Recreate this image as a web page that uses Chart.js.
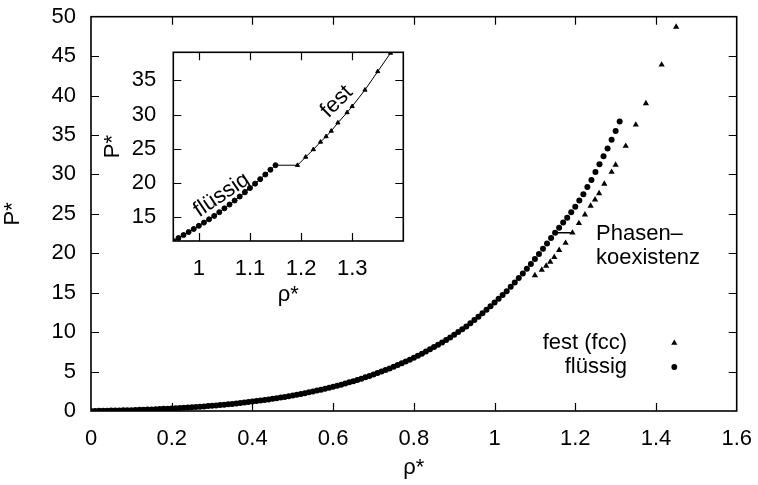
<!DOCTYPE html>
<html>
<head>
<meta charset="utf-8">
<script src="https://cdn.jsdelivr.net/npm/chart.js@4.4.1/dist/chart.umd.min.js"></script>
<style>
  body { margin: 0; background: #fff; }
  #wrap { position: relative; width: 758px; height: 485px; }
  #main { position: absolute; left: 0; top: 0; }
  #inset { position: absolute; left: 100px; top: 40px; }
</style>
</head>
<body>
<div id="wrap">
  <canvas id="main" width="758" height="485"></canvas>
  <canvas id="inset" width="320" height="275"></canvas>
</div>
<script>
// fluid branch (circles)
const rhoFluid = [
  0.00, 0.01, 0.02, 0.03, 0.04, 0.05, 0.06, 0.07, 0.08, 0.09,
  0.10, 0.11, 0.12, 0.13, 0.14, 0.15, 0.16, 0.17, 0.18, 0.19,
  0.20, 0.21, 0.22, 0.23, 0.24, 0.25, 0.26, 0.27, 0.28, 0.29,
  0.30, 0.31, 0.32, 0.33, 0.34, 0.35, 0.36, 0.37, 0.38, 0.39,
  0.40, 0.41, 0.42, 0.43, 0.44, 0.45, 0.46, 0.47, 0.48, 0.49,
  0.50, 0.51, 0.52, 0.53, 0.54, 0.55, 0.56, 0.57, 0.58, 0.59,
  0.60, 0.61, 0.62, 0.63, 0.64, 0.65, 0.66, 0.67, 0.68, 0.69,
  0.70, 0.71, 0.72, 0.73, 0.74, 0.75, 0.76, 0.77, 0.78, 0.79,
  0.80, 0.81, 0.82, 0.83, 0.84, 0.85, 0.86, 0.87, 0.88, 0.89,
  0.90, 0.91, 0.92, 0.93, 0.94, 0.95, 0.96, 0.97, 0.98, 0.99,
  1.00, 1.01, 1.02, 1.03, 1.04, 1.05, 1.06, 1.07, 1.08, 1.09,
  1.10, 1.11, 1.12, 1.13, 1.14, 1.15, 1.16, 1.17, 1.18, 1.19,
  1.20, 1.21, 1.22, 1.23, 1.24, 1.25, 1.26, 1.27, 1.28, 1.29,
  1.30, 1.31
];
const pFluid = [
  0.00, 0.01, 0.02, 0.03, 0.04, 0.05, 0.06, 0.07, 0.09, 0.10,
  0.11, 0.13, 0.15, 0.16, 0.18, 0.20, 0.22, 0.24, 0.27, 0.29,
  0.32, 0.35, 0.38, 0.41, 0.44, 0.47, 0.51, 0.54, 0.58, 0.62,
  0.66, 0.70, 0.75, 0.80, 0.85, 0.90, 0.96, 1.01, 1.07, 1.13,
  1.19, 1.26, 1.32, 1.39, 1.46, 1.54, 1.62, 1.70, 1.78, 1.87,
  1.97, 2.06, 2.16, 2.26, 2.37, 2.47, 2.59, 2.70, 2.82, 2.95,
  3.07, 3.21, 3.34, 3.48, 3.63, 3.78, 3.94, 4.10, 4.27, 4.44,
  4.62, 4.81, 5.00, 5.19, 5.39, 5.60, 5.82, 6.04, 6.27, 6.51,
  6.76, 7.01, 7.27, 7.54, 7.82, 8.10, 8.40, 8.70, 9.01, 9.33,
  9.67, 10.01, 10.36, 10.72, 11.12, 11.53, 11.96, 12.40, 12.84, 13.29,
  13.75, 14.22, 14.70, 15.20, 15.74, 16.30, 16.86, 17.44, 18.03, 18.64,
  19.27, 19.91, 20.57, 21.24, 21.94, 22.60, 23.25, 23.90, 24.50, 25.20,
  25.90, 26.70, 27.50, 28.40, 29.30, 30.30, 31.30, 32.30, 33.30, 34.40,
  35.50, 36.70
];

// solid fcc branch (triangles)
const rhoSolid = [1.100, 1.117, 1.128, 1.138, 1.148, 1.160, 1.176, 1.193, 1.209, 1.224, 1.238,
                  1.249, 1.259, 1.272, 1.290, 1.300, 1.325, 1.350, 1.375, 1.414, 1.450];
const pSolid = [17.2, 17.9, 18.4, 18.9, 19.5, 20.4, 21.3, 22.6, 23.8, 24.9, 26.0,
                26.8, 27.6, 28.8, 30.3, 31.2, 33.6, 36.3, 39.0, 43.9, 48.7];

// coexistence line
const rhoCoex = [1.150, 1.195];
const pCoex = [22.6, 22.6];

// tick labels
const mainXTicks = [0, 0.2, 0.4, 0.6, 0.8, 1, 1.2, 1.4, 1.6];
const mainYTicks = [0, 5, 10, 15, 20, 25, 30, 35, 40, 45, 50];
const insetXTicks = [1, 1.1, 1.2, 1.3];
const insetYTicks = [15, 20, 25, 30, 35];

const FONT = 'Liberation Sans, Arial, Helvetica, sans-serif';

function pts(xs, ys) {
    return xs.map((x, i) => ({x: x, y: ys[i]}));
}

// gnuplot style box with ticks pointing inwards on all 4 sides
const framePlugin = {
    id: 'frame',
    afterDraw(chart) {
        const {ctx, chartArea: a, scales} = chart;
        const x = scales.x, y = scales.y;
        ctx.save();
        ctx.strokeStyle = '#000';
        ctx.lineWidth = 1.2;
        ctx.beginPath();
        x.ticks.forEach(t => {
            const px = Math.round(x.getPixelForValue(t.value)) + 0.5;
            if (px <= a.left + 2 || px >= a.right - 2) return;
            ctx.moveTo(px, a.bottom); ctx.lineTo(px, a.bottom - 8);
            ctx.moveTo(px, a.top); ctx.lineTo(px, a.top + 8);
        });
        y.ticks.forEach(t => {
            const py = Math.round(y.getPixelForValue(t.value)) + 0.5;
            if (py <= a.top + 2 || py >= a.bottom - 2) return;
            ctx.moveTo(a.left, py); ctx.lineTo(a.left + 8, py);
            ctx.moveTo(a.right, py); ctx.lineTo(a.right - 8, py);
        });
        ctx.stroke();
        ctx.lineWidth = 1.6;
        ctx.strokeRect(a.left, a.top, a.right - a.left, a.bottom - a.top);
        ctx.restore();
    }
};

function triangle(ctx, cx, cy, r) {
    ctx.beginPath();
    for (let k = 0; k < 3; k++) {
        const ang = k * 2 * Math.PI / 3;
        const px = cx + Math.sin(ang) * r, py = cy - Math.cos(ang) * r;
        if (k === 0) ctx.moveTo(px, py); else ctx.lineTo(px, py);
    }
    ctx.closePath();
    ctx.fill();
}

// legend and labels of the main plot
const mainTextPlugin = {
    id: 'mainText',
    afterDraw(chart) {
        const ctx = chart.ctx;
        ctx.save();
        ctx.fillStyle = '#000';
        ctx.font = '22px ' + FONT;
        ctx.textBaseline = 'alphabetic';
        ctx.textAlign = 'left';
        ctx.fillText('Phasen\u2013', 596, 240);
        ctx.fillText('koexistenz', 596, 264);
        ctx.textAlign = 'right';
        ctx.fillText('fest (fcc)', 627, 349);
        ctx.fillText('flüssig', 627, 373);
        triangle(ctx, 674.3, 343, 3.6);
        ctx.beginPath();
        ctx.arc(674.3, 367, 2.9, 0, 2 * Math.PI);
        ctx.fill();
        ctx.restore();
    }
};

const insetTextPlugin = {
    id: 'insetText',
    afterDraw(chart) {
        const ctx = chart.ctx;
        ctx.save();
        ctx.fillStyle = '#000';
        ctx.font = '22px ' + FONT;
        ctx.textAlign = 'center';
        ctx.textBaseline = 'middle';
        ctx.translate(121.7, 155);
        ctx.rotate(-34 * Math.PI / 180);
        ctx.fillText('flüssig', 0, 0);
        ctx.restore();
        ctx.save();
        ctx.fillStyle = '#000';
        ctx.font = '22px ' + FONT;
        ctx.textAlign = 'center';
        ctx.textBaseline = 'middle';
        ctx.translate(236.7, 61.7);
        ctx.rotate(-45 * Math.PI / 180);
        ctx.fillText('fest', 0, 0);
        ctx.restore();
    }
};

function makeScales(o) {
    return {
        x: {
            type: 'linear', min: o.xmin, max: o.xmax,
            afterBuildTicks: s => { s.ticks = o.xticks.map(v => ({value: v})); },
            afterFit: s => { s.height = o.xh; s.paddingLeft = 0; s.paddingRight = 0; },
            grid: {display: false, drawTicks: false}, border: {display: false},
            ticks: {color: '#000', font: {family: FONT, size: 22}, padding: o.xpad, maxRotation: 0,
                    callback: v => String(v)},
            title: {display: true, text: 'ρ*', color: '#000', font: {family: FONT, size: 22},
                    padding: {top: 0, bottom: o.xtitlePad}}
        },
        y: {
            type: 'linear', min: o.ymin, max: o.ymax,
            afterBuildTicks: s => { s.ticks = o.yticks.map(v => ({value: v})); },
            afterFit: s => { s.width = o.yw; s.paddingTop = 0; s.paddingBottom = 0; },
            grid: {display: false, drawTicks: false}, border: {display: false},
            ticks: {color: '#000', font: {family: FONT, size: 22}, padding: o.ypad,
                    callback: v => String(v)},
            title: {display: true, text: 'P*', color: '#000', font: {family: FONT, size: 22},
                    padding: 0}
        }
    };
}

new Chart(document.getElementById('main'), {
    type: 'scatter',
    data: {
        datasets: [
            {label: 'fest (fcc)', data: pts(rhoSolid, pSolid), pointStyle: 'triangle',
             pointRadius: 3.6, backgroundColor: '#000', borderColor: '#000', borderWidth: 0, showLine: false},
            {label: 'flüssig', data: pts(rhoFluid, pFluid), pointStyle: 'circle',
             pointRadius: 3, backgroundColor: '#000', borderColor: '#000', borderWidth: 0, showLine: false},
            {label: 'coex', data: pts(rhoCoex, pCoex), showLine: true, pointRadius: 0,
             borderColor: '#000', borderWidth: 1.5}
        ]
    },
    options: {
        responsive: false,
        animation: false,
        layout: {padding: {left: 0, top: 16.7, right: 21.3, bottom: 0}},
        plugins: {legend: {display: false}, tooltip: {enabled: false}},
        scales: makeScales({xmin: 0, xmax: 1.6, ymin: 0, ymax: 50, xticks: mainXTicks, yticks: mainYTicks,
                            xh: 74, yw: 91, xpad: 15, ypad: 15, xtitlePad: 4})
    },
    plugins: [framePlugin, mainTextPlugin]
});

// inset: only the stable branches, joined by the coexistence line
const insetFluid = pts(rhoFluid, pFluid).filter(p => p.x >= 0.949 && p.x <= 1.151);
const insetSolid = pts(rhoSolid, pSolid).filter(p => p.x >= 1.19 && p.x <= 1.40);

new Chart(document.getElementById('inset'), {
    type: 'scatter',
    data: {
        datasets: [
            {data: insetFluid, pointStyle: 'circle', pointRadius: 2.5, backgroundColor: '#000',
             borderColor: '#000', borderWidth: 1, showLine: true},
            {data: pts(rhoCoex, pCoex), showLine: true, pointRadius: 0, borderColor: '#000', borderWidth: 1},
            {data: insetSolid, pointStyle: 'triangle', pointRadius: 2.4, backgroundColor: '#000',
             borderColor: '#000', borderWidth: 1, showLine: true}
        ]
    },
    options: {
        responsive: false,
        animation: false,
        layout: {padding: {left: 0, top: 12.3, right: 16.7, bottom: 0}},
        plugins: {legend: {display: false}, tooltip: {enabled: false}},
        scales: makeScales({xmin: 0.95, xmax: 1.40, ymin: 11.53, ymax: 39.1, xticks: insetXTicks, yticks: insetYTicks,
                            xh: 74, yw: 73.3, xpad: 15, ypad: 17, xtitlePad: 7})
    },
    plugins: [framePlugin, insetTextPlugin]
});
</script>
</body>
</html>
